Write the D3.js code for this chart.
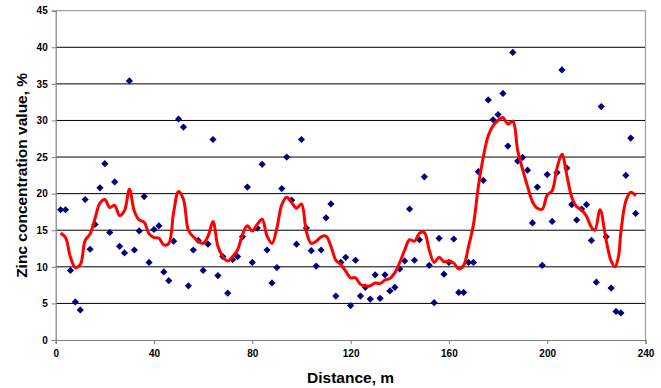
<!DOCTYPE html>
<html>
<head>
<meta charset="utf-8">
<script src="https://cdn.jsdelivr.net/npm/d3@7"></script>
<style>
  html, body { margin: 0; padding: 0; background: #fff; }
  svg { display: block; }
  text { font-family: "Liberation Sans", Arial, sans-serif; font-weight: bold; fill: #000; }
</style>
</head>
<body>
<svg id="chart" width="661" height="388"></svg>
<script>
// Sampling positions along the transect (m) and measured zinc concentration (%)
const distance = [
  2, 4, 6, 8, 10, 12, 14, 16, 18, 20, 22, 24, 26, 28, 30, 32, 34, 36, 38, 40,
  42, 44, 46, 48, 50, 52, 54, 56, 58, 60, 62, 64, 66, 68, 70, 72, 74, 76, 78, 80,
  82, 84, 86, 88, 90, 92, 94, 96, 98, 100, 102, 104, 106, 108, 110, 112, 114, 116, 118, 120,
  122, 124, 126, 128, 130, 132, 134, 136, 138, 140, 142, 144, 146, 148, 150, 152, 154, 156, 158, 160,
  162, 164, 166, 168, 170, 172, 174, 176, 178, 180, 182, 184, 186, 188, 190, 192, 194, 196, 198, 200,
  202, 204, 206, 208, 210, 212, 214, 216, 218, 220, 222, 224, 226, 228, 230, 232, 234, 236
];
const zinc = [
  17.8, 17.8, 9.5, 5.2, 4.1, 19.2, 12.4, 15.8, 20.8, 24.1, 14.7, 21.6, 12.8, 11.9, 35.4, 12.3, 14.9, 19.6, 10.6, 15.1,
  15.6, 9.3, 8.1, 13.5, 30.2, 29.1, 7.4, 12.3, 13.6, 9.5, 13.1, 27.4, 8.8, 11.4, 6.4, 11.0, 11.4, 14.1, 20.9, 10.6,
  15.3, 24.0, 12.3, 7.8, 9.9, 20.7, 25.0, 19.1, 13.1, 27.4, 15.3, 12.2, 10.1, 12.3, 16.7, 18.6, 6.0, 10.6, 11.3, 4.7,
  10.9, 6.0, 7.2, 5.6, 8.9, 5.7, 8.9, 6.7, 7.2, 9.7, 10.8, 17.9, 10.9, 13.7, 22.3, 10.2, 5.1, 13.9, 9.0, 10.6,
  13.8, 6.5, 6.5, 10.6, 10.6, 23.0, 21.8, 32.8, 30.1, 30.8, 33.7, 26.5, 39.3, 24.45, 24.95, 23.2, 16.0, 20.9, 10.2, 22.6,
  16.2, 22.9, 36.9, 23.5, 18.5, 16.4, 17.9, 18.5, 13.6, 7.9, 31.9, 14.1, 7.1, 3.9, 3.7, 22.5, 27.6, 17.3
];

// Smoothed trend of the concentration profile
const trendDistance = [
  2, 4, 6, 8, 10, 12, 14, 16, 18, 20, 22, 24, 26, 28, 30, 32, 34, 36, 38, 40,
  42, 44, 46, 48, 50, 52, 54, 56, 58, 60, 62, 64, 66, 68, 70, 72, 74, 76, 78, 80,
  82, 84, 86, 88, 90, 92, 94, 96, 98, 100, 102, 104, 106, 108, 110, 112, 114, 116, 118, 120,
  122, 124, 126, 128, 130, 132, 134, 136, 138, 140, 142, 144, 146, 148, 150, 152, 154, 156, 158, 160,
  162, 164, 166, 168, 170, 172, 174, 176, 178, 180, 182, 184, 186, 188, 190, 192, 194, 196, 198, 200,
  202, 204, 206, 208, 210, 212, 214, 216, 218, 219.4, 221.5, 224, 226, 227.6, 229, 230, 232, 234, 236
];
const trendZinc = [
  14.6, 14.0, 11.3, 9.9, 10.3, 13.6, 14.5, 16.6, 18.7, 19.2, 18.1, 18.4, 17.0, 17.7, 20.6, 17.6, 16.4, 16.1, 14.5, 14.0,
  13.9, 13.0, 13.2, 17.5, 20.3, 19.2, 15.0, 14.1, 13.5, 13.2, 14.2, 16.2, 12.8, 11.4, 10.8, 11.4, 12.3, 14.4, 15.6, 14.9,
  15.8, 16.5, 14.2, 13.2, 15.3, 18.5, 19.5, 18.8, 18.0, 18.6, 14.8, 13.2, 13.5, 14.1, 14.2, 12.8, 10.9, 10.3, 9.4, 8.5,
  8.5, 7.6, 7.4, 7.4, 7.8, 7.7, 8.2, 8.4, 9.2, 10.6, 12.3, 13.7, 13.5, 14.6, 14.7, 12.3, 10.6, 11.3, 10.7, 10.8,
  10.5, 9.7, 10.2, 12.8, 15.8, 21.0, 25.0, 27.9, 29.3, 30.0, 30.4, 29.5, 29.9, 25.9, 23.3, 21.0, 18.9, 18.0, 17.9, 19.8,
  20.4, 23.5, 25.4, 22.5, 19.5, 18.2, 17.8, 16.9, 15.4, 15.0, 17.8, 13.6, 10.8, 10.0, 11.4, 14.8, 19.0, 20.2, 19.7
];

const yTicks = [0, 5, 10, 15, 20, 25, 30, 35, 40, 45];
const xTicks = [0, 40, 80, 120, 160, 200, 240];

const svg = d3.select("#chart");
const plotLeft = 55.7, plotRight = 645.5, plotTop = 10.7, plotBottom = 340;

const x = d3.scaleLinear().domain([0, 240]).range([plotLeft, plotRight]);
const y = d3.scaleLinear().domain([0, 45]).range([plotBottom, plotTop]);

// Horizontal gridlines
svg.append("g")
  .selectAll("line")
  .data(yTicks.filter(t => t > 0 && t < 45))
  .join("line")
  .attr("x1", plotLeft).attr("x2", plotRight)
  .attr("y1", d => y(d)).attr("y2", d => y(d))
  .attr("stroke", "#000").attr("stroke-width", 1);

// Plot area frame (top and right)
svg.append("path")
  .attr("d", `M${plotLeft},${plotTop}H${plotRight}V${plotBottom}`)
  .attr("fill", "none").attr("stroke", "#a0a0a0").attr("stroke-width", 1.2);

// Axes
const yAxis = svg.append("g")
  .attr("transform", `translate(${plotLeft},0)`)
  .call(d3.axisLeft(y).tickValues(yTicks).tickSize(4).tickPadding(4).tickFormat(d3.format("d")));
const xAxis = svg.append("g")
  .attr("transform", `translate(0,${plotBottom})`)
  .call(d3.axisBottom(x).tickValues(xTicks).tickSize(4).tickPadding(6).tickFormat(d3.format("d")));

[yAxis, xAxis].forEach(g => {
  g.select(".domain").attr("stroke", "#808080").attr("stroke-width", 1.2);
  g.selectAll(".tick line").attr("stroke", "#808080");
  g.selectAll(".tick text")
    .attr("font-family", "'Liberation Sans', Arial, sans-serif")
    .attr("font-weight", "bold")
    .attr("font-size", 10)
    .attr("fill", "#000");
});

// Data points as diamonds
const diamond = d3.symbol().type(d3.symbolSquare).size(26);
svg.append("g")
  .selectAll("path")
  .data(distance.map((d, i) => [d, zinc[i]]))
  .join("path")
  .attr("d", diamond)
  .attr("transform", d => `translate(${x(d[0])},${y(d[1])}) rotate(45)`)
  .attr("fill", "#000080");

// Smoothed trend line
const line = d3.line()
  .x(d => x(d[0]))
  .y(d => y(d[1]))
  .curve(d3.curveCatmullRom.alpha(0.5));
svg.append("path")
  .datum(trendDistance.map((d, i) => [d, trendZinc[i]]))
  .attr("d", line)
  .attr("fill", "none")
  .attr("stroke", "#ff0000")
  .attr("stroke-width", 3)
  .attr("stroke-linejoin", "round");

// Axis titles
svg.append("text")
  .attr("x", (plotLeft + plotRight) / 2)
  .attr("y", 382.5)
  .attr("text-anchor", "middle")
  .attr("font-size", 15.5)
  .text("Distance, m");

svg.append("text")
  .attr("transform", `translate(26.5,${(plotTop + plotBottom) / 2}) rotate(-90)`)
  .attr("text-anchor", "middle")
  .attr("font-size", 15.5)
  .text("Zinc concentration value, %");
</script>
</body>
</html>
